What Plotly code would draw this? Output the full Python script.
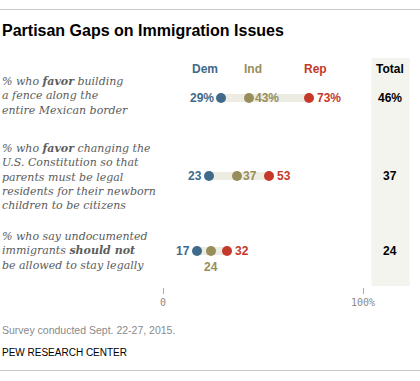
import plotly.graph_objects as go

# ---------------- data ----------------
questions = [
    "% who <b>favor</b> building<br>a fence along the<br>entire Mexican border",
    "% who <b>favor</b> changing the<br>U.S. Constitution so that<br>parents must be legal<br>residents for their newborn<br>children to be citizens",
    "% who say undocumented<br>immigrants <b>should not</b><br>be allowed to stay legally",
]
dem = [29, 23, 17]
ind = [43, 37, 24]
rep = [73, 53, 32]
total = [46, 37, 24]
pct_suffix = ["%", "", ""]
party_names = ["Dem", "Ind", "Rep"]
axis_ticks = [0, 100]
axis_ticklabels = ["0", "100%"]

# ---------------- layout constants ----------------
W, H = 420, 381
X0_PX, PX_PER_PCT = 163, 2.0
row_y = [98, 176, 251]          # pixel rows (y axis in pixels, top=0)
label_y = [96, 177, 251]
ind_pos = ["right", "right", "below"]
header_y = 69

C_DEM = "#3F6A8A"
C_IND = "#978E5A"
C_REP = "#C4392A"
C_BAND = "#EDECE2"
C_TOTBG = "#F4F4EF"
C_LABEL = "#5C5C5C"

SANS = "Liberation Sans"
SERIF = "DejaVu Serif"

def px2paper_x(px):
    return px / W

def px2paper_y(py):
    return 1 - py / H

xr = [-X0_PX / PX_PER_PCT, (W - X0_PX) / PX_PER_PCT]

fig = go.Figure()

# band from Dem to Rep
for i in range(len(dem)):
    fig.add_trace(go.Scatter(
        x=[dem[i], rep[i]], y=[row_y[i], row_y[i]], mode="lines",
        line=dict(color=C_BAND, width=8), hoverinfo="skip", showlegend=False))

for vals, col in [(dem, C_DEM), (ind, C_IND), (rep, C_REP)]:
    fig.add_trace(go.Scatter(
        x=vals, y=row_y, mode="markers",
        marker=dict(size=10, color=col, line=dict(width=0)),
        showlegend=False, cliponaxis=False))

ann = []
# title
ann.append(dict(text="<b>Partisan Gaps on Immigration Issues</b>", xref="paper", yref="y",
                x=0, y=30, xanchor="left", yanchor="middle", showarrow=False,
                font=dict(family=SANS, size=16, color="#000000")))
# headers
for name, xv, col in [("Dem", 21, C_DEM), ("Ind", 45, C_IND), ("Rep", 76, C_REP)]:
    ann.append(dict(text="<b>" + name + "</b>", xref="x", yref="y", x=xv, y=header_y,
                    xanchor="center", yanchor="middle", showarrow=False,
                    font=dict(family=SANS, size=12, color=col)))
ann.append(dict(text="<b>Total</b>", xref="paper", yref="y", x=px2paper_x(390), y=header_y,
                xanchor="center", yanchor="middle", showarrow=False,
                font=dict(family=SANS, size=12, color="#000000")))

for i in range(len(dem)):
    ann.append(dict(text=questions[i], xref="paper", yref="y", x=0, y=label_y[i],
                    xanchor="left", yanchor="middle", align="left", showarrow=False,
                    font=dict(family=SERIF, size=11, color=C_LABEL, style="italic")))
    sfx = pct_suffix[i]
    ann.append(dict(text="<b>%d%s</b>" % (dem[i], sfx), xref="x", yref="y", x=dem[i], y=row_y[i],
                    xanchor="right", yanchor="middle", xshift=-5, showarrow=False,
                    font=dict(family=SANS, size=12, color=C_DEM)))
    if ind_pos[i] == "right":
        ann.append(dict(text="<b>%d%s</b>" % (ind[i], sfx), xref="x", yref="y", x=ind[i], y=row_y[i],
                        xanchor="left", yanchor="middle", xshift=4, showarrow=False,
                        font=dict(family=SANS, size=12, color=C_IND)))
    else:
        ann.append(dict(text="<b>%d%s</b>" % (ind[i], sfx), xref="x", yref="y", x=ind[i], y=row_y[i],
                        xanchor="center", yanchor="top", yshift=-7, showarrow=False,
                        font=dict(family=SANS, size=12, color=C_IND)))
    ann.append(dict(text="<b>%d%s</b>" % (rep[i], sfx), xref="x", yref="y", x=rep[i], y=row_y[i],
                    xanchor="left", yanchor="middle", xshift=6, showarrow=False,
                    font=dict(family=SANS, size=12, color=C_REP)))
    ann.append(dict(text="<b>%d%%</b>" % total[i] if i == 0 else "<b>%d</b>" % total[i],
                    xref="paper", yref="y", x=px2paper_x(390), y=row_y[i],
                    xanchor="center", yanchor="middle", showarrow=False,
                    font=dict(family=SANS, size=12, color="#000000")))

ann.append(dict(text="Survey conducted Sept. 22-27, 2015.", xref="paper", yref="y", x=0, y=330,
                xanchor="left", yanchor="middle", showarrow=False,
                font=dict(family=SANS, size=10.5, color="#8A8A8A")))
ann.append(dict(text="PEW RESEARCH CENTER", xref="paper", yref="y", x=0, y=352,
                xanchor="left", yanchor="middle", showarrow=False,
                font=dict(family=SANS, size=10, color="#000000")))

shapes = [
    dict(type="rect", xref="paper", yref="y", x0=px2paper_x(371.5), x1=px2paper_x(409.5),
         y0=58, y1=286, fillcolor=C_TOTBG, line=dict(width=0), layer="below"),
    dict(type="line", xref="paper", yref="y", x0=0, x1=1, y0=9.5, y1=9.5,
         line=dict(color="#C8C8C8", width=1)),
    dict(type="line", xref="paper", yref="y", x0=0, x1=1, y0=370.5, y1=370.5,
         line=dict(color="#C8C8C8", width=1)),
]

fig.update_layout(
    width=W, height=H, margin=dict(l=0, r=0, t=0, b=0, pad=0, autoexpand=False),
    paper_bgcolor="white", plot_bgcolor="rgba(0,0,0,0)",
    annotations=ann, shapes=shapes,
    xaxis=dict(range=xr, showgrid=False, zeroline=False, showline=False,
               tickmode="array", tickvals=axis_ticks, ticktext=axis_ticklabels,
               ticks="outside", ticklen=6, tickwidth=1, tickcolor="#AAAAAA",
               tickfont=dict(family="DejaVu Sans Mono", size=10, color="#8A8A8A"),
               anchor="free", position=px2paper_y(287), fixedrange=True),
    yaxis=dict(range=[H, 0], domain=[0, 1], visible=False, fixedrange=True),
)

fig.write_html("out.html", config={"displayModeBar": False},
               post_script="document.body.style.margin='0';document.body.style.padding='0';")
